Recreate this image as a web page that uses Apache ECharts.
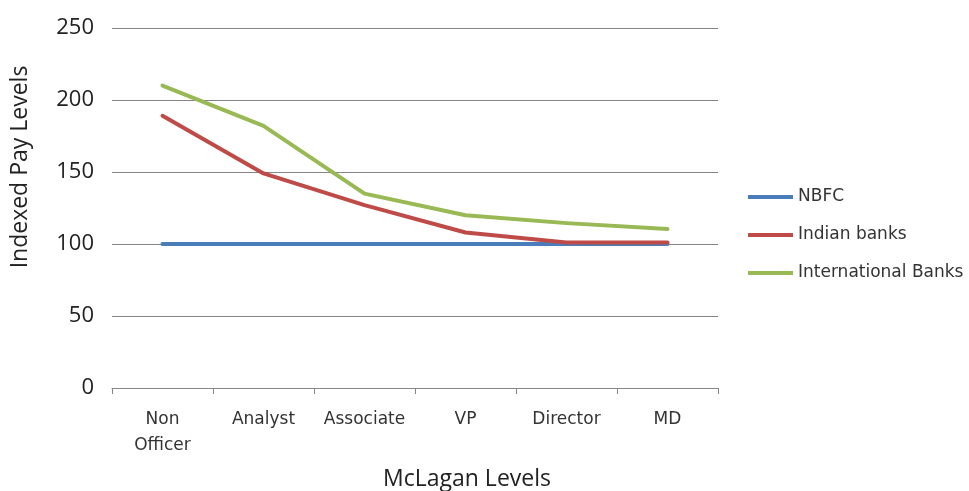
<!DOCTYPE html>
<html>
<head>
<meta charset="utf-8">
<script src="https://cdn.jsdelivr.net/npm/echarts@6/dist/echarts.min.js"></script>
<style>
  html, body { margin: 0; padding: 0; background: #fff; }
  #chart { width: 969px; height: 491px; }
</style>
</head>
<body>
<div id="chart"></div>
<script>
// Pay levels indexed to NBFC = 100, by McLagan level
const levels = ['Non\nOfficer', 'Analyst', 'Associate', 'VP', 'Director', 'MD'];
const nbfc = [100, 100, 100, 100, 100, 100];
const indianBanks = [189, 149, 127, 108, 101, 101];
const internationalBanks = [210, 182, 135, 120, 114.5, 110.5];
const yTicks = [0, 50, 100, 150, 200, 250];

const TITLE_FONT = '"Open Sans", "Noto Sans", sans-serif';
const SMALL_FONT = '"DejaVu Sans", "Noto Sans", sans-serif';
const chart = echarts.init(document.getElementById('chart'));

const lineSeries = (name, data, color) => ({
  name, type: 'line', data,
  symbol: 'none', smooth: false,
  lineStyle: { color, width: 4, cap: 'round', join: 'round' },
  itemStyle: { color },
  animation: false
});

chart.setOption({
  animation: false,
  textStyle: { fontFamily: TITLE_FONT },
  grid: { left: 112, right: 251, top: 28, bottom: 103, containLabel: false },
  legend: {
    orient: 'vertical', left: 743, top: 182,
    itemWidth: 45, itemHeight: 4, itemGap: 18,
    icon: 'rect',
    textStyle: { fontFamily: SMALL_FONT, fontSize: 17, lineHeight: 20, color: '#333' },
    data: ['NBFC', 'Indian banks', 'International Banks']
  },
  graphic: [
    {
      type: 'text', x: 20, y: 167, rotation: Math.PI / 2,
      style: {
        text: 'Indexed Pay Levels', fontFamily: TITLE_FONT, fontSize: 23,
        fill: '#222', align: 'center', verticalAlign: 'middle'
      }
    },
    {
      type: 'text', x: 467, y: 479,
      style: {
        text: 'McLagan Levels', fontFamily: TITLE_FONT, fontSize: 23,
        fill: '#222', align: 'center', verticalAlign: 'middle'
      }
    }
  ],
  xAxis: {
    type: 'category', data: levels, boundaryGap: true,
    axisLine: { lineStyle: { color: '#868686', width: 1 } },
    axisTick: { show: true, length: 6, alignWithLabel: false, lineStyle: { color: '#868686' } },
    axisLabel: { fontFamily: SMALL_FONT, fontSize: 17, color: '#333', margin: 19, lineHeight: 26, interval: 0 }
  },
  yAxis: {
    type: 'value', min: 0, max: 250, interval: 50,
    axisLine: { show: false },
    axisTick: { show: false },
    splitLine: { lineStyle: { color: '#868686', width: 1 } },
    axisLabel: {
      fontFamily: TITLE_FONT, fontSize: 22, color: '#222', margin: 18,
      formatter: v => yTicks.includes(v) ? String(v) : ''
    }
  },
  series: [
    lineSeries('NBFC', nbfc, '#4A7EBB'),
    lineSeries('Indian banks', indianBanks, '#BE4B48'),
    lineSeries('International Banks', internationalBanks, '#98B954')
  ]
});
</script>
</body>
</html>
